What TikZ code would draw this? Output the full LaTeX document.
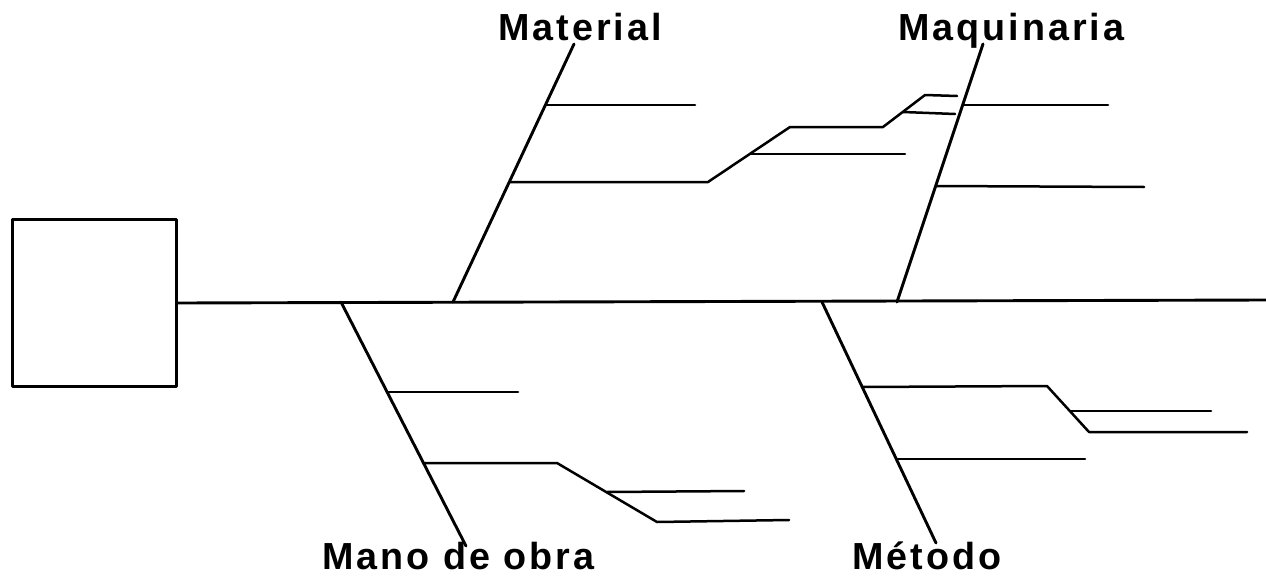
\documentclass[tikz,border=0pt]{standalone}
\usepackage{fontspec}
\setmainfont{Liberation Sans}
\newfontfamily\labelfont[LetterSpace=8]{Liberation Sans}
\begin{document}
\begin{tikzpicture}[x=1pt,y=-1pt,
  line join=round, line cap=round,
  bone/.style={line width=2.9pt},
  twig/.style={line width=2.5pt},
  effectbox/.style={draw, line width=2.4pt, rectangle, inner sep=0pt,
    minimum width=164pt, minimum height=167pt},
  cause/.style={inner sep=0pt, font=\labelfont\bfseries\fontsize{37.7}{40}\selectfont}]
\useasboundingbox (0,0) rectangle (1266,578);

% effect box and spine
\node[effectbox] (effect) at (94.5,303) {};
\coordinate (tail) at (1266,300);
\draw[bone] (effect.east) -- (tail);

% labels
\node[cause, anchor=base west] (lmat) at (498,41) {Material};
\node[cause, anchor=base west] (lmaq) at (898,41) {Maquinaria};
\node[cause, anchor=base west] (lmo)  at (322,569) {Mano de obra};
\node[cause, anchor=base west] (lmet) at (852,569) {Método};

% Material
\coordinate (m0) at (453,302);
\coordinate (m1) at (574,44);
\draw[bone] (m0) -- (m1);
\coordinate (ma1) at (545,105); \coordinate (ma2) at (695,105);
\draw[twig] (ma1) -- (ma2);
\coordinate (mb1) at (510,182); \coordinate (mb2) at (708,182);
\coordinate (mb3) at (790,127); \coordinate (mb4) at (883,127);
\coordinate (mb5) at (925,95);  \coordinate (mb6) at (957,96);
\draw[twig] (mb1) -- (mb2) -- (mb3) -- (mb4) -- (mb5) -- (mb6);
\coordinate (mc1) at (750,154); \coordinate (mc2) at (905,154);
\draw[twig] (mc1) -- (mc2);
\coordinate (md1) at (903,112); \coordinate (md2) at (955,114);
\draw[twig] (md1) -- (md2);

% Maquinaria
\coordinate (q0) at (897,302);
\coordinate (q1) at (983,44);
\draw[bone] (q0) -- (q1);
\coordinate (qa1) at (963,105); \coordinate (qa2) at (1108,105);
\draw[twig] (qa1) -- (qa2);
\coordinate (qb1) at (936,186); \coordinate (qb2) at (1144,187);
\draw[twig] (qb1) -- (qb2);

% Mano de obra
\coordinate (o0) at (341,302);
\coordinate (o1) at (466,546);
\draw[bone] (o0) -- (o1);
\coordinate (oa1) at (387,392); \coordinate (oa2) at (518,392);
\draw[twig] (oa1) -- (oa2);
\coordinate (ob1) at (423,463); \coordinate (ob2) at (557,463);
\coordinate (ob3) at (657,522); \coordinate (ob4) at (789,520);
\draw[twig] (ob1) -- (ob2) -- (ob3) -- (ob4);
\coordinate (oc1) at (607,492); \coordinate (oc2) at (744,491);
\draw[twig] (oc1) -- (oc2);

% Método
\coordinate (t0) at (822,302);
\coordinate (t1) at (936,543);
\draw[bone] (t0) -- (t1);
\coordinate (ta1) at (862,387); \coordinate (ta2) at (1047,386);
\coordinate (ta3) at (1089,432); \coordinate (ta4) at (1247,432);
\draw[twig] (ta1) -- (ta2) -- (ta3) -- (ta4);
\coordinate (tb1) at (1070,411); \coordinate (tb2) at (1211,411);
\draw[twig] (tb1) -- (tb2);
\coordinate (tc1) at (896,459); \coordinate (tc2) at (1085,459);
\draw[twig] (tc1) -- (tc2);
\end{tikzpicture}
\end{document}
